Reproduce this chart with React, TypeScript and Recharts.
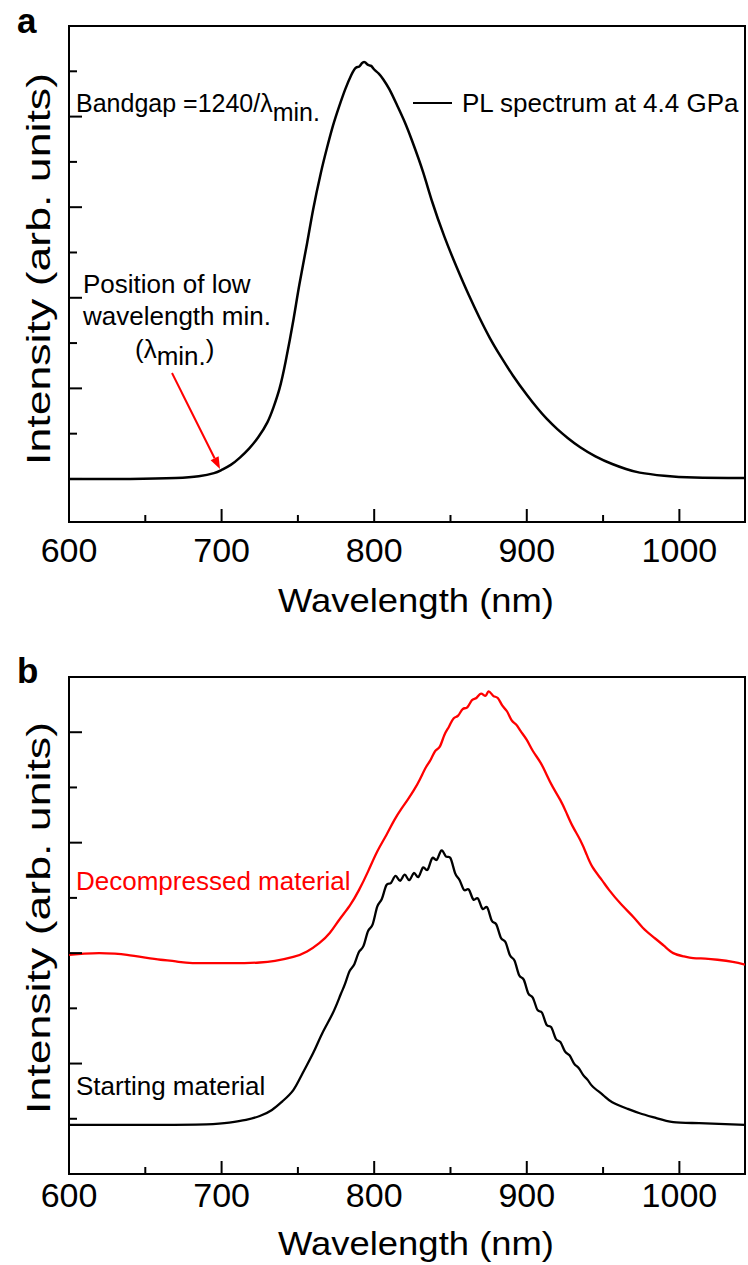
import { LineChart, Line, XAxis, YAxis, ReferenceArea } from 'recharts';

const FONT = "Arial, 'Liberation Sans', sans-serif";

// x axis (nm)
const X_MIN = 600;
const X_MAX = 1043;
const xTicks = [600, 650, 700, 750, 800, 850, 900, 950, 1000];

// panel a: PL spectrum at 4.4 GPa
const nmA = [600, 640, 670, 685, 695, 700, 706, 712, 718, 724, 730, 734, 738, 742, 747, 751, 756, 760, 765, 769, 773, 777, 781, 785, 788, 790, 792, 794, 796, 798, 800, 803, 806, 810, 815, 820, 825, 832, 838, 846, 854, 862, 869, 876, 883, 891, 900, 907, 913, 920, 927, 935, 945, 956, 965, 974, 990, 1010, 1043];
const intensityA = [0, 0, 0.02, 0.06, 0.13, 0.2, 0.31, 0.47, 0.67, 0.92, 1.25, 1.58, 2.0, 2.6, 3.5, 4.3, 5.2, 5.95, 6.75, 7.3, 7.8, 8.22, 8.6, 8.92, 9.08, 9.1, 9.18, 9.2, 9.14, 9.12, 9.04, 8.95, 8.82, 8.6, 8.25, 7.88, 7.45, 6.78, 6.12, 5.35, 4.68, 4.06, 3.56, 3.1, 2.7, 2.28, 1.86, 1.56, 1.33, 1.1, 0.9, 0.7, 0.5, 0.33, 0.22, 0.14, 0.07, 0.03, 0.02];
const yDomainA = [-0.95, 10];
const yTicksA = [0, 1, 2, 3, 4, 5, 6, 7, 8, 9];

// panel b: starting material
const nmStart = [600, 650, 690, 705, 716, 725, 733, 740, 747, 753, 760, 766, 773, 778, 781, 784, 787, 790, 793, 796, 799, 802, 805, 808, 811, 814, 817, 820, 823, 826, 829, 832, 835, 838, 841, 844, 847, 850, 853, 856, 859, 862, 865, 868, 871, 874, 877, 880, 883, 886, 889, 892, 895, 898, 901, 904, 907, 910, 913, 916, 919, 922, 925, 928, 931, 934, 937, 940, 943, 950, 956, 966, 974, 985, 996, 1013, 1043];
const intensityStart = [0.89, 0.89, 0.9, 0.93, 0.98, 1.05, 1.16, 1.32, 1.52, 1.82, 2.19, 2.55, 2.92, 3.25, 3.45, 3.68, 3.8, 4.02, 4.13, 4.4, 4.52, 4.84, 4.98, 5.23, 5.27, 5.4, 5.31, 5.42, 5.32, 5.45, 5.38, 5.55, 5.51, 5.72, 5.69, 5.86, 5.75, 5.72, 5.45, 5.32, 5.14, 5.15, 4.97, 4.99, 4.8, 4.83, 4.59, 4.52, 4.28, 4.2, 3.96, 3.86, 3.6, 3.52, 3.27, 3.19, 2.97, 2.92, 2.7, 2.66, 2.45, 2.39, 2.22, 2.15, 2.0, 1.92, 1.79, 1.7, 1.59, 1.43, 1.3, 1.18, 1.1, 1.01, 0.94, 0.92, 0.89];

// panel b: decompressed material
const nmDecomp = [600, 610, 620, 630, 638, 650, 660, 670, 681, 700, 715, 725, 735, 747, 756, 764, 771, 777, 784, 790, 796, 802, 808, 813, 818, 822, 826, 830, 834, 837, 840, 843, 846, 849, 852, 855, 858, 861, 864, 867, 870, 873, 875, 878, 881, 884, 887, 890, 893, 896, 900, 904, 909, 913, 917, 922, 926, 930, 935, 939, 943, 949, 954, 962, 970, 976, 983, 990, 996, 1003, 1009, 1017, 1025, 1035, 1043];
const intensityDecomp = [3.97, 3.99, 4.0, 3.99, 3.97, 3.92, 3.88, 3.85, 3.82, 3.82, 3.82, 3.83, 3.86, 3.93, 4.03, 4.18, 4.37, 4.6, 4.86, 5.14, 5.48, 5.84, 6.14, 6.4, 6.62, 6.78, 6.95, 7.15, 7.37, 7.5, 7.66, 7.74, 7.95, 8.1, 8.25, 8.3, 8.42, 8.45, 8.58, 8.62, 8.7, 8.66, 8.74, 8.66, 8.62, 8.48, 8.38, 8.22, 8.14, 8.02, 7.86, 7.66, 7.45, 7.23, 7.01, 6.77, 6.54, 6.3, 6.05, 5.8, 5.56, 5.33, 5.14, 4.88, 4.65, 4.46, 4.29, 4.13, 4.0, 3.94, 3.91, 3.9, 3.88, 3.84, 3.79];
const yDomainB = [0, 9];
const yTicksB = [1, 2, 3, 4, 5, 6, 7, 8];

const toPoints = (nm: number[], v: number[]) => nm.map((n, i) => ({ nm: n, v: v[i] }));

const dataA = toPoints(nmA, intensityA);
const dataStart = toPoints(nmStart, intensityStart);
const dataDecomp = toPoints(nmDecomp, intensityDecomp);

// inward tick marks plus labels under the axis
const makeXTick = (labelGap: number) => (props: any) => {
  const { x, y, payload } = props;
  const v = payload.value;
  const major = v % 100 === 0;
  return (
    <g>
      {v !== X_MIN && (
        <line x1={x} x2={x} y1={y} y2={y - (major ? 13 : 7)} stroke="#000" strokeWidth={2} />
      )}
      {major && (
        <text x={x} y={y + labelGap} textAnchor="middle" fontSize={34} fontFamily={FONT} fill="#000">
          {v}
        </text>
      )}
    </g>
  );
};

const yTick = (props: any) => {
  const { x, y, payload } = props;
  const major = payload.value % 2 === 0;
  return <line x1={x} x2={x + (major ? 13 : 8)} y1={y} y2={y} stroke="#000" strokeWidth={2} />;
};

function Panel({ height, marginTop, marginBottom, labelGap, yDomain, yTicks, children }: any) {
  return (
    <LineChart
      width={748}
      height={height}
      margin={{ top: marginTop, right: 3, bottom: marginBottom, left: 0 }}
    >
      <XAxis
        xAxisId="x"
        type="number"
        dataKey="nm"
        domain={[X_MIN, X_MAX]}
        allowDataOverflow
        ticks={xTicks}
        interval={0}
        tickSize={0}
        tickMargin={0}
        tickLine={false}
        axisLine={false}
        height={60}
        tick={makeXTick(labelGap)}
      />
      <YAxis
        yAxisId="y"
        type="number"
        domain={yDomain}
        allowDataOverflow
        ticks={yTicks}
        interval={0}
        tickSize={0}
        tickMargin={0}
        tickLine={false}
        axisLine={false}
        width={69}
        tick={yTick}
      />
      {children}
      <ReferenceArea
        xAxisId="x"
        yAxisId="y"
        x1={X_MIN}
        x2={X_MAX}
        y1={yDomain[0]}
        y2={yDomain[1]}
        fill="none"
        stroke="#000"
        strokeWidth={2}
        fillOpacity={0}
      />
    </LineChart>
  );
}

export default function App() {
  return (
    <div style={{ position: 'absolute', left: 0, top: 0, width: 748, height: 1265, background: '#fff' }}>
      <div style={{ position: 'absolute', left: 0, top: 0 }}>
        <Panel height={630} marginTop={26} marginBottom={48} labelGap={40} yDomain={yDomainA} yTicks={yTicksA}>
          <Line
            xAxisId="x"
            yAxisId="y"
            data={dataA}
            dataKey="v"
            type="natural"
            dot={false}
            stroke="#000"
            strokeWidth={2.5}
            isAnimationActive={false}
          />
        </Panel>
      </div>
      <div style={{ position: 'absolute', left: 0, top: 650 }}>
        <Panel height={615} marginTop={27} marginBottom={31} labelGap={33} yDomain={yDomainB} yTicks={yTicksB}>
          <Line
            xAxisId="x"
            yAxisId="y"
            data={dataDecomp}
            dataKey="v"
            type="natural"
            dot={false}
            stroke="#f00"
            strokeWidth={2.3}
            isAnimationActive={false}
          />
          <Line
            xAxisId="x"
            yAxisId="y"
            data={dataStart}
            dataKey="v"
            type="natural"
            dot={false}
            stroke="#000"
            strokeWidth={2.3}
            isAnimationActive={false}
          />
        </Panel>
      </div>

      {/* annotations */}
      <svg
        width={748}
        height={1265}
        style={{ position: 'absolute', left: 0, top: 0, pointerEvents: 'none' }}
        fontFamily={FONT}
      >
        <text x={17} y={33} fontSize={35} fontWeight="bold">a</text>
        <text x={76} y={112} fontSize={25}>
          Bandgap =1240/λ<tspan dy={9}>min.</tspan>
        </text>
        <line x1={413} x2={452} y1={103} y2={103} stroke="#000" strokeWidth={2} />
        <text x={462} y={112} fontSize={26}>PL spectrum at 4.4 GPa</text>
        <text x={83} y={293} fontSize={26}>Position of low</text>
        <text x={83} y={325} fontSize={26}>wavelength min.</text>
        <text x={135} y={358} fontSize={26}>
          (λ<tspan dy={7}>min.</tspan><tspan dy={-7}>)</tspan>
        </text>
        <line x1={172} y1={373} x2={214.6} y2={458.3} stroke="#f00" strokeWidth={2} />
        <polygon points="220,469 210.6,460.3 218.6,456.3" fill="#f00" />
        <text
          transform="translate(50,269) rotate(-90)"
          textAnchor="middle"
          fontSize={33}
          textLength={392}
          lengthAdjust="spacingAndGlyphs"
        >
          Intensity (arb. units)
        </text>
        <text x={416} y={612} textAnchor="middle" fontSize={33} textLength={276} lengthAdjust="spacingAndGlyphs">
          Wavelength (nm)
        </text>

        <text x={17} y={683} fontSize={35} fontWeight="bold">b</text>
        <text x={76} y={890} fontSize={26} fill="#f00">Decompressed material</text>
        <text x={76} y={1095} fontSize={26}>Starting material</text>
        <text
          transform="translate(50,918) rotate(-90)"
          textAnchor="middle"
          fontSize={33}
          textLength={392}
          lengthAdjust="spacingAndGlyphs"
        >
          Intensity (arb. units)
        </text>
        <text x={416} y={1255} textAnchor="middle" fontSize={33} textLength={276} lengthAdjust="spacingAndGlyphs">
          Wavelength (nm)
        </text>
      </svg>
    </div>
  );
}
